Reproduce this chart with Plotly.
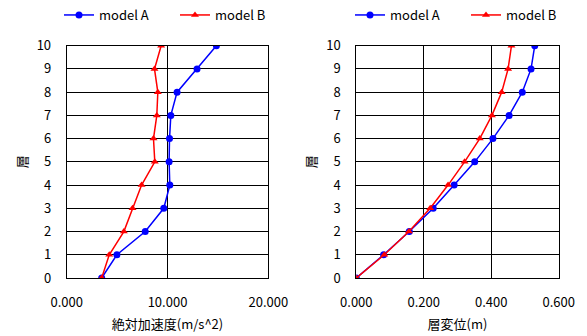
import plotly.graph_objects as go

floors = [0, 1, 2, 3, 4, 5, 6, 7, 8, 9, 10]
acc_a = [3.47, 4.98, 7.79, 9.63, 10.23, 10.16, 10.20, 10.33, 10.95, 12.93, 14.85]
acc_b = [3.47, 4.22, 5.67, 6.53, 7.43, 8.74, 8.61, 8.94, 9.04, 8.71, 9.37]
disp_a = [0.000, 0.081, 0.157, 0.228, 0.290, 0.351, 0.405, 0.453, 0.492, 0.518, 0.529]
disp_b = [0.000, 0.083, 0.156, 0.219, 0.272, 0.321, 0.366, 0.402, 0.431, 0.450, 0.460]

BLUE = "#0000FF"
RED = "#FF0000"
FONT = "Noto Sans CJK JP, Liberation Sans, sans-serif"

fig = go.Figure()
fig.add_trace(go.Scatter(x=acc_a, y=floors, mode="lines+markers", name="model A",
                         line=dict(color=BLUE, width=1.5), marker=dict(symbol="circle", size=7, color=BLUE),
                         xaxis="x", yaxis="y", legend="legend"))
fig.add_trace(go.Scatter(x=acc_b, y=floors, mode="lines+markers", name="model B",
                         line=dict(color=RED, width=1.5), marker=dict(symbol="triangle-up", size=7, color=RED),
                         xaxis="x", yaxis="y", legend="legend"))
fig.add_trace(go.Scatter(x=disp_a, y=floors, mode="lines+markers", name="model A",
                         line=dict(color=BLUE, width=1.5), marker=dict(symbol="circle", size=7, color=BLUE),
                         xaxis="x2", yaxis="y2", legend="legend2"))
fig.add_trace(go.Scatter(x=disp_b, y=floors, mode="lines+markers", name="model B",
                         line=dict(color=RED, width=1.5), marker=dict(symbol="triangle-up", size=7, color=RED),
                         xaxis="x2", yaxis="y2", legend="legend2"))

W, H = 587, 336
ytop = 1 - 45.7 / H
ybot = 1 - 278 / H

axis_common = dict(showline=True, linecolor="black", linewidth=1, mirror=True,
                   showgrid=True, gridcolor="black", gridwidth=1, zeroline=False,
                   ticks="", automargin=False,
                   tickfont=dict(size=13, color="black", family=FONT))

fig.update_layout(
    width=W, height=H,
    margin=dict(l=0, r=0, t=0, b=0),
    paper_bgcolor="white", plot_bgcolor="white",
    font=dict(family=FONT, color="black", size=13),
    xaxis=dict(domain=[66.7 / W, 268.3 / W], range=[0, 20], dtick=10, tickformat=".3f",
               anchor="y", ticklabelstandoff=12,
               title=dict(text="絶対加速度(m/s^2)", font=dict(size=13), standoff=10),
               **axis_common),
    yaxis=dict(domain=[ybot, ytop], range=[0, 10], dtick=1, anchor="x", ticklabelstandoff=12,
               title=dict(text="層", font=dict(size=13), standoff=6), **axis_common),
    xaxis2=dict(domain=[356.3 / W, 558.7 / W], range=[0, 0.6], dtick=0.2, tickformat=".3f",
                anchor="y2", ticklabelstandoff=12,
                title=dict(text="層変位(m)", font=dict(size=13), standoff=10),
                **axis_common),
    yaxis2=dict(domain=[ybot, ytop], range=[0, 10], dtick=1, anchor="x2", ticklabelstandoff=12,
                title=dict(text="層", font=dict(size=13), standoff=6), **axis_common),
    legend=dict(orientation="h", x=59 / W, xanchor="left", y=1, yanchor="top",
                font=dict(size=13), itemwidth=30, entrywidth=71, bgcolor="rgba(0,0,0,0)"),
    legend2=dict(orientation="h", x=350 / W, xanchor="left", y=1, yanchor="top",
                 font=dict(size=13), itemwidth=30, entrywidth=71, bgcolor="rgba(0,0,0,0)"),
)

fig.write_html("out.html", config={"displayModeBar": False},
               post_script="document.body.style.margin='0';document.body.style.overflow='hidden';")
